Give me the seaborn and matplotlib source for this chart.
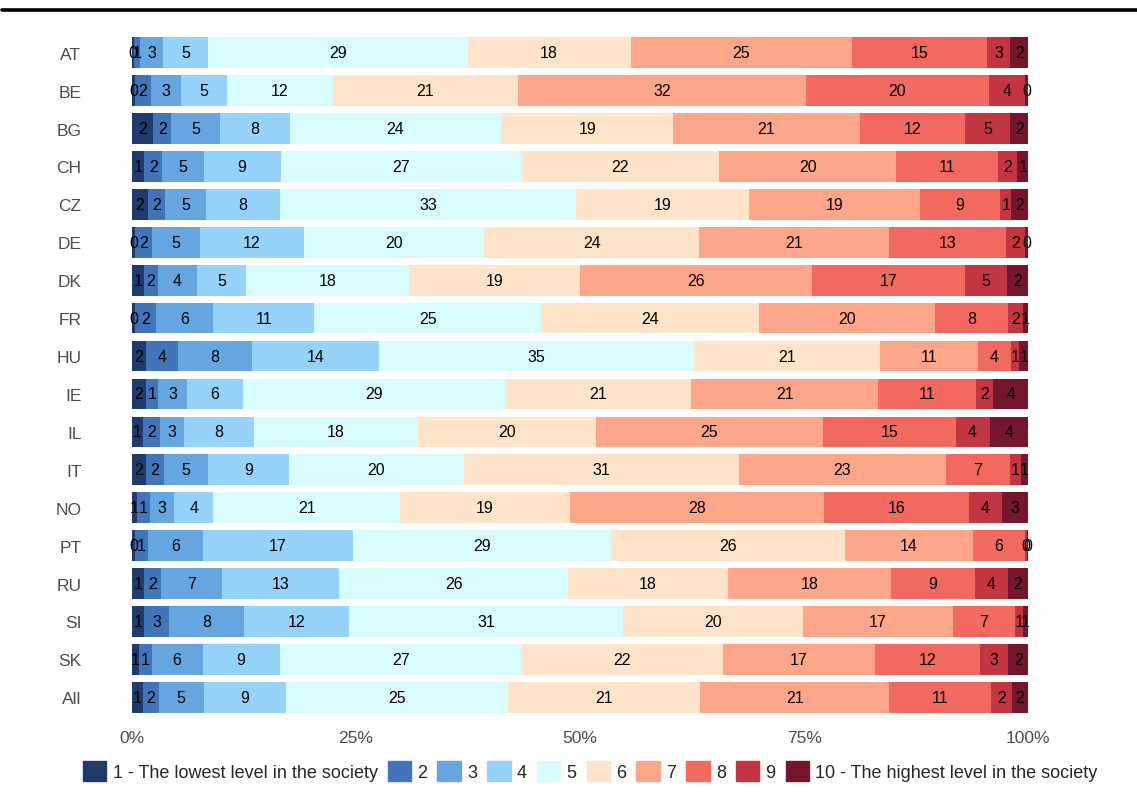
import seaborn as sns
import matplotlib.pyplot as plt
import matplotlib.lines as mlines
import matplotlib.patches as mpatches
import numpy as np
import pandas as pd

countries = ["AT", "BE", "BG", "CH", "CZ", "DE", "DK", "FR", "HU",
             "IE", "IL", "IT", "NO", "PT", "RU", "SI", "SK", "All"]

levels = ["1 - The lowest level in the society", "2", "3", "4", "5",
          "6", "7", "8", "9", "10 - The highest level in the society"]

# shares (%) per country, levels 1..10
AT = [0.2, 0.7, 2.6, 5.0, 29.0, 18.2, 24.7, 15.1, 2.6, 2.0]
BE = [0.4, 1.7, 3.4, 5.1, 11.8, 20.7, 32.1, 20.4, 4.1, 0.3]
BG = [2.4, 2.0, 5.4, 7.8, 23.6, 19.2, 20.8, 11.8, 5.0, 2.0]
CH = [1.4, 2.0, 4.6, 8.6, 26.9, 22.0, 19.8, 11.3, 2.2, 1.2]
CZ = [1.8, 1.9, 4.6, 8.2, 33.1, 19.3, 19.0, 9.0, 1.2, 1.9]
DE = [0.4, 1.8, 5.4, 11.6, 20.1, 24.0, 21.2, 13.0, 2.2, 0.3]
DK = [1.4, 1.5, 4.4, 5.4, 18.2, 19.1, 25.9, 17.1, 4.6, 2.4]
FR = [0.4, 2.3, 6.4, 11.2, 25.4, 24.3, 19.6, 8.2, 1.6, 0.6]
HU = [1.6, 3.6, 8.2, 14.2, 35.1, 20.8, 10.9, 3.7, 0.9, 1.0]
IE = [1.6, 1.3, 3.3, 6.2, 29.3, 20.7, 20.9, 10.9, 1.9, 3.9]
IL = [1.3, 1.8, 2.7, 7.8, 18.3, 19.9, 25.3, 14.8, 3.8, 4.3]
IT = [1.6, 2.0, 4.9, 9.0, 19.6, 30.6, 23.1, 7.2, 1.2, 0.8]
NO = [0.6, 1.4, 2.7, 4.4, 20.8, 19.0, 28.3, 16.2, 3.7, 2.9]
PT = [0.4, 1.4, 6.1, 16.8, 28.8, 26.1, 14.2, 5.8, 0.3, 0.1]
RU = [1.4, 1.9, 6.8, 13.0, 25.6, 17.8, 18.2, 9.4, 3.6, 2.3]
SI = [1.4, 2.8, 8.3, 11.7, 30.6, 20.1, 16.7, 6.9, 0.9, 0.6]
SK = [0.8, 1.4, 5.7, 8.6, 27.0, 22.4, 17.0, 11.7, 3.2, 2.2]
ALL = [1.2, 1.8, 5.0, 9.2, 24.8, 21.4, 21.1, 11.3, 2.4, 1.8]

colors = ["#1f3b6d", "#4274b9", "#65a5e0", "#95d3fb", "#d9fdfe",
          "#fee4c8", "#fea68a", "#f2695f", "#c33540", "#74162c"]

rows = [AT, BE, BG, CH, CZ, DE, DK, FR, HU, IE, IL, IT, NO, PT, RU, SI, SK, ALL]
vals = np.array(rows, dtype=float)
vals = vals / vals.sum(axis=1, keepdims=True) * 100
cum = vals.cumsum(axis=1)

df = pd.DataFrame(cum, columns=levels)
df["country"] = countries

sns.set_style("white")
plt.rcParams['font.family'] = ['Liberation Sans', 'DejaVu Sans']

fig = plt.figure(figsize=(11.37, 8.03), dpi=100)
ax = fig.add_axes([87/1137, 1 - 721/803, (1073-87)/1137, (721-31)/803])

# draw cumulative bars from the widest to the narrowest -> stacked look
for k in range(len(levels) - 1, -1, -1):
    sns.barplot(data=df, x=levels[k], y="country", order=countries,
                color=colors[k], saturation=1, width=0.81, linewidth=0,
                orient="h", ax=ax)

# value labels
for i in range(len(countries)):
    for k in range(len(levels)):
        mid = cum[i, k] - vals[i, k] / 2
        ax.text(mid, i, f"{int(round(vals[i, k]))}", ha="center", va="center",
                fontsize=11.5, color="black")

ax.set_xlim(-5, 105)
ax.set_ylim(len(countries) - 0.4, -0.6)
ax.set_xticks([0, 25, 50, 75, 100])
ax.set_xticklabels(["0%", "25%", "50%", "75%", "100%"])
ax.set_xlabel("")
ax.set_ylabel("")
ax.tick_params(axis="both", length=0, labelsize=12.5, labelcolor="#4d4d4d")
ax.tick_params(axis="x", pad=7)
ax.tick_params(axis="y", pad=4)
sns.despine(ax=ax, left=True, bottom=True)

handles = [mpatches.Patch(color=c, label=l) for c, l in zip(colors, levels)]
fig.legend(handles=handles, loc="center left", ncol=10, frameon=False,
           bbox_to_anchor=(83/1137, 1 - 772/803), fontsize=13,
           handlelength=1.3, handleheight=1.3, handletextpad=0.35,
           columnspacing=0.55, borderpad=0, borderaxespad=0)

fig.add_artist(mlines.Line2D([0.002, 1.0], [1 - 11/803, 1 - 11/803],
                             color="black", linewidth=2.6))

fig.savefig("out.png", dpi=100)
